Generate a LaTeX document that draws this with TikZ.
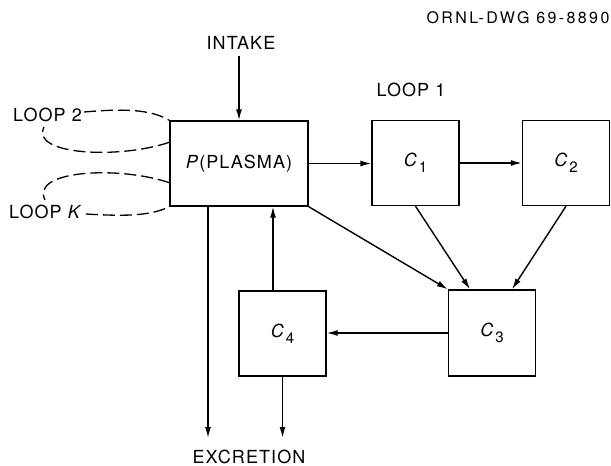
\documentclass[tikz,border=0pt]{standalone}
\usepackage{fontspec}
\setmainfont{TeX Gyre Heros}
\newfontfamily\lett[LetterSpace=6]{TeX Gyre Heros}
\newfontfamily\ornfont[LetterSpace=15]{TeX Gyre Heros}
\usetikzlibrary{arrows.meta,calc}
\newcommand\Csub[1]{\textit{C}\kern1pt\raisebox{-6pt}{\fontsize{15}{15}\selectfont #1}}
\begin{document}
\begin{tikzpicture}[x=1pt,y=-1pt,
 box/.style={draw,line width=1.4pt,inner sep=0pt,minimum width=87pt,minimum height=85pt,font=\fontsize{18}{20}\selectfont\lett},
 arr/.style={line width=1.4pt,-{Latex[length=11pt,width=6pt]}},
 lbl/.style={inner sep=0pt,font=\fontsize{18}{20}\selectfont\lett},
 loopline/.style={line width=1.3pt,dash pattern=on 12pt off 5pt}]
\useasboundingbox (0,0) rectangle (611,466);
% nodes
\node[box,minimum width=138pt] (P) at (239,163.5) {\textit{P}(PLASMA)};
\node[box] (C1) at (415.5,163) {\Csub{1}};
\node[box] (C2) at (566,163) {\Csub{2}};
\node[box,minimum height=86pt] (C3) at (492,333) {\Csub{3}};
\node[box] (C4) at (282.5,333.5) {\Csub{4}};
\node[lbl] (intake) at (241,43) {INTAKE};
\node[lbl] (loop1) at (411,90) {LOOP 1};
\node[lbl,anchor=west] (L2) at (13,115) {LOOP 2};
\node[lbl,anchor=west] (LK) at (9,212) {LOOP \textit{K}};
\node[lbl] (excr) at (249,457) {EXCRETION};
\node[inner sep=0pt,font=\fontsize{16}{17}\selectfont\ornfont] (orn) at (518,18) {ORNL-DWG 69-8890};
% connectors
\draw[arr] ($(intake.south -| P.north)+(0,6)$) -- (P.north);
\draw[arr] (P.east) -- (P.east -| C1.west);
\draw[arr] (C1.east) -- (C2.west);
\draw[arr] (C1.south) -- ($(C3.north)+(-22,0)$);
\draw[arr] (C2.south) -- ($(C3.north)+(20,0)$);
\draw[arr] (P.south east) -- (C3.north west);
\draw[arr] (C3.west) -- (C3.west -| C4.east);
\coordinate (up) at ($(C4.north)+(-9.5,0)$);
\draw[arr] (up) -- (up |- P.south);
\coordinate (e1) at (208,438);
\draw[arr] (e1 |- P.south) -- (e1);
\coordinate (e2) at (C4.south |- e1);
\draw[arr] (C4.south) -- (e2);
% loops
\draw[loopline] ($(L2.east)+(2,-3)$) .. controls +(35,-3) and +(-20,-12) .. (P.north west);
\draw[loopline] ($(P.north west)+(0,22)$) .. controls +(-50,17) and +(-14,28) .. ($(L2.south west)+(31,5)$);
\draw[loopline] ($(P.south west)+(0,-24)$) .. controls +(-50,-17) and +(-15,-30) .. ($(LK.north west)+(36,-5)$);
\draw[loopline] ($(LK.east)+(3,2)$) .. controls +(35,2) and +(-20,10) .. (P.south west);
\end{tikzpicture}
\end{document}
